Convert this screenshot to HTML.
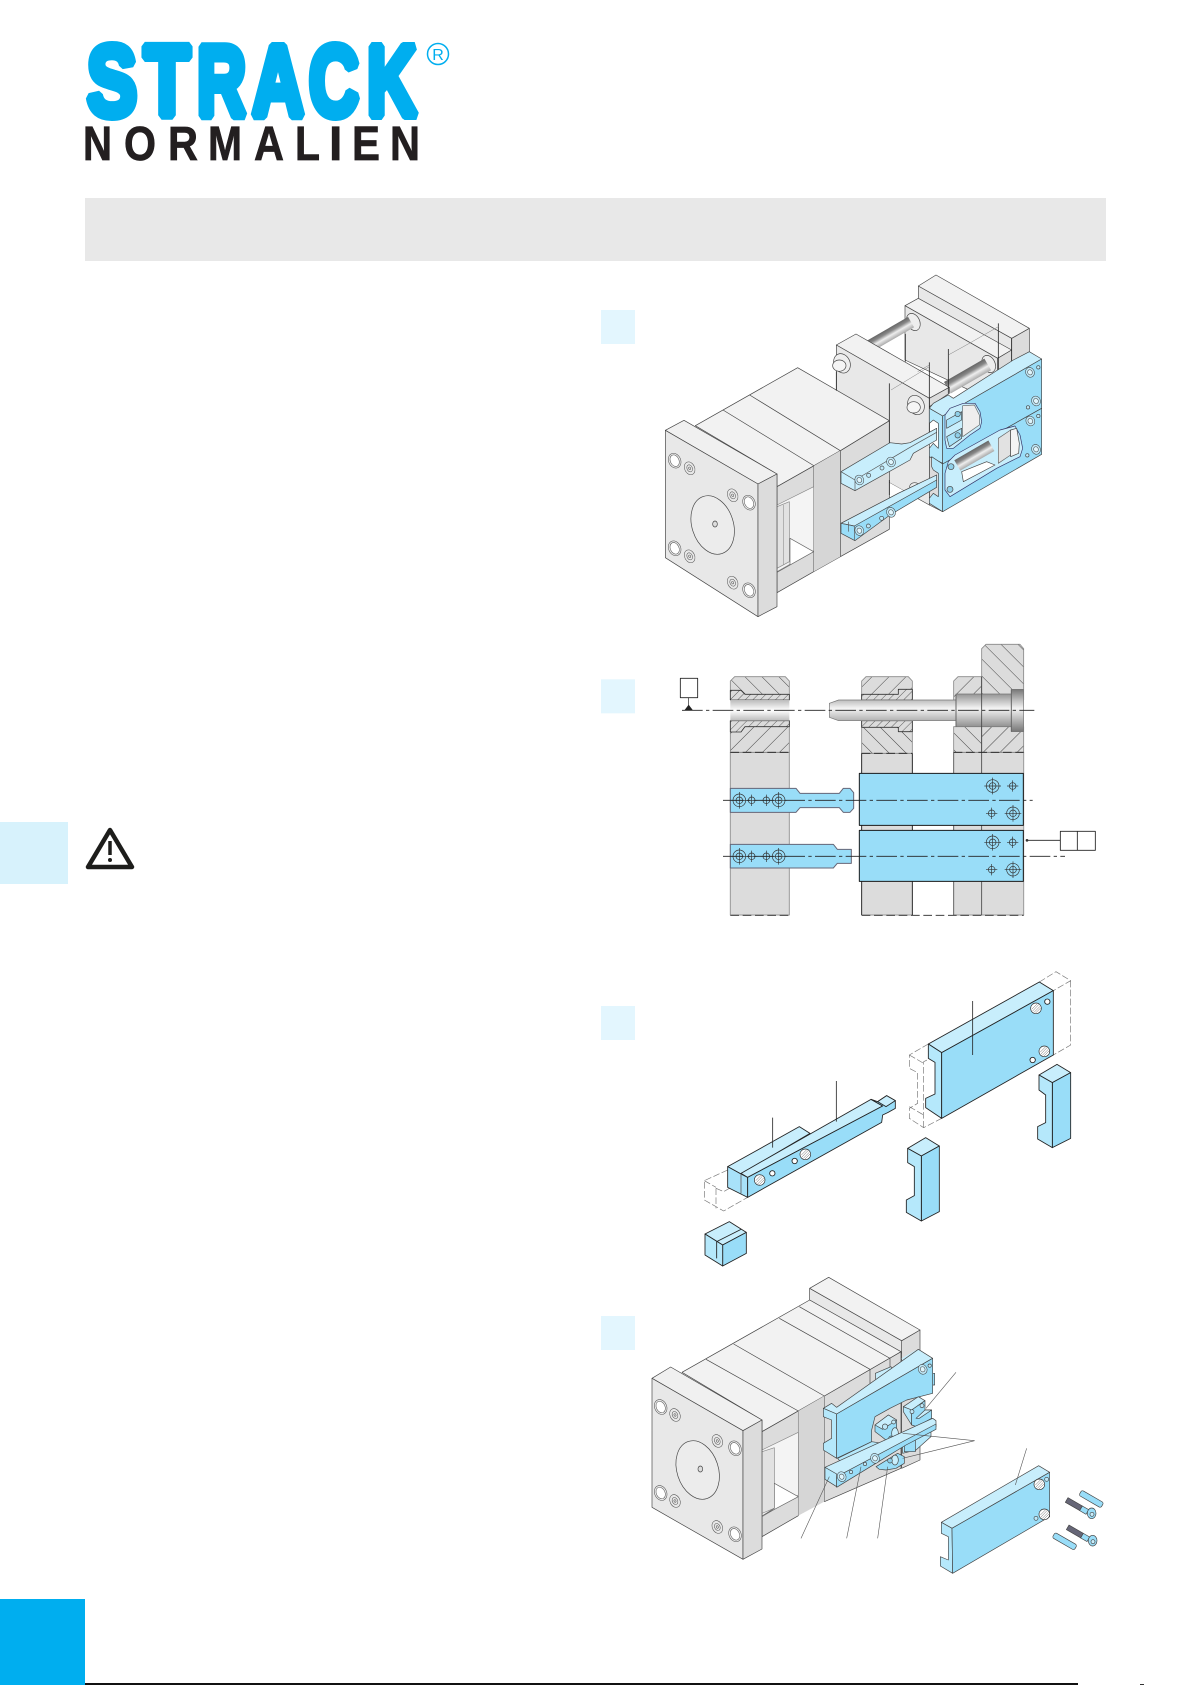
<!DOCTYPE html>
<html><head><meta charset="utf-8"><title>Strack Normalien</title>
<style>html,body{margin:0;padding:0;background:#fff}svg{display:block}</style></head>
<body>
<svg xmlns="http://www.w3.org/2000/svg" width="1192" height="1685" viewBox="0 0 1192 1685">
<defs>
<linearGradient id="cyl" x1="0" y1="0" x2="0" y2="1"><stop offset="0" stop-color="#666"/><stop offset=".3" stop-color="#888"/><stop offset=".6" stop-color="#eee"/><stop offset=".8" stop-color="#ccc"/><stop offset="1" stop-color="#aaa"/></linearGradient>
<linearGradient id="pin" x1="0" y1="0" x2="0" y2="1"><stop offset="0" stop-color="#777"/><stop offset=".45" stop-color="#f4f4f4"/><stop offset="1" stop-color="#777"/></linearGradient>
<linearGradient id="bore" x1="0" y1="0" x2="0" y2="1"><stop offset="0" stop-color="#bbb"/><stop offset=".5" stop-color="#fff"/><stop offset="1" stop-color="#bbb"/></linearGradient>
<pattern id="hR" width="36" height="36" patternUnits="userSpaceOnUse" patternTransform="rotate(45)"><rect width="36" height="36" fill="#dcdcdc"/><line x1="0" y1="0" x2="0" y2="36" stroke="#444" stroke-width="3"/></pattern>
<pattern id="hL" width="36" height="36" patternUnits="userSpaceOnUse" patternTransform="rotate(-45)"><rect width="36" height="36" fill="#dcdcdc"/><line x1="0" y1="0" x2="0" y2="36" stroke="#444" stroke-width="3"/></pattern>
<pattern id="hS" width="16" height="16" patternUnits="userSpaceOnUse" patternTransform="rotate(45)"><rect width="16" height="16" fill="#dcdcdc"/><line x1="0" y1="0" x2="0" y2="16" stroke="#444" stroke-width="2.5"/></pattern>
<g id="tB" fill="none" stroke="#333" stroke-width="2"><circle r="19"/><circle r="10"/><path d="M-25 0H25M0-25V25"/></g>
<g id="tS" fill="none" stroke="#333" stroke-width="2"><circle r="10"/><path d="M-17 0H17M0-17V17"/></g>
<g id="hole" stroke="#444" stroke-width="1.6" fill="#bfe8f8"><ellipse rx="13" ry="15" transform="rotate(-25)"/><ellipse rx="7" ry="8" transform="rotate(-25)" fill="#dff5fd"/></g>
<g id="ghole" stroke="#555" stroke-width="1.6" fill="#e8e8e8"><ellipse rx="18" ry="23" transform="rotate(-25)"/><ellipse rx="13" ry="18" transform="rotate(-25)" fill="#fff"/></g>
<g id="gsm" stroke="#555" stroke-width="1.6" fill="#e8e8e8"><ellipse rx="15" ry="20" transform="rotate(-25)"/><ellipse rx="8" ry="11" transform="rotate(-25)"/><ellipse rx="3" ry="4" transform="rotate(-25)"/></g>
<g id="thr" stroke="#333" stroke-width="2" fill="#fff"><circle r="16"/><path d="M-10 8L8-11M-12 2L3-13M-6 12L12-6M-1 14L14-1" fill="none" stroke-width="1.1"/></g>
</defs>
<rect width="1192" height="1685" fill="#fff"/>

<!-- logo -->
<g font-family="'Liberation Sans',sans-serif" font-weight="700" fill="#00aeef" stroke="#00aeef" stroke-width="9" stroke-linejoin="bevel" font-size="100">
<text x="87" y="115.500" textLength="50" lengthAdjust="spacingAndGlyphs">S</text>
<text x="144" y="115.500" textLength="46" lengthAdjust="spacingAndGlyphs">T</text>
<text x="197" y="115.500" textLength="49" lengthAdjust="spacingAndGlyphs">R</text>
<text x="252" y="115.500" textLength="52" lengthAdjust="spacingAndGlyphs">A</text>
<text x="309" y="115.500" textLength="50" lengthAdjust="spacingAndGlyphs">C</text>
<text x="367" y="115.500" textLength="50" lengthAdjust="spacingAndGlyphs">K</text>
</g>
<g font-family="'Liberation Sans',sans-serif" font-weight="700" fill="#231f20" stroke="#231f20" stroke-width=".7" font-size="48">
<text x="83" y="160" textLength="29" lengthAdjust="spacingAndGlyphs">N</text>
<text x="124" y="160" textLength="32" lengthAdjust="spacingAndGlyphs">O</text>
<text x="168" y="160" textLength="30" lengthAdjust="spacingAndGlyphs">R</text>
<text x="208" y="160" textLength="34" lengthAdjust="spacingAndGlyphs">M</text>
<text x="254" y="160" textLength="30" lengthAdjust="spacingAndGlyphs">A</text>
<text x="295" y="160" textLength="25" lengthAdjust="spacingAndGlyphs">L</text>
<text x="329" y="160">I</text>
<text x="352" y="160" textLength="28" lengthAdjust="spacingAndGlyphs">E</text>
<text x="390" y="160" textLength="30" lengthAdjust="spacingAndGlyphs">N</text>
</g>
<circle cx="438" cy="54" r="10.5" fill="none" stroke="#00aeef" stroke-width="1.5"/>
<text x="438" y="60" text-anchor="middle" font-family="'Liberation Sans',sans-serif" font-size="16" fill="#00aeef">R</text>

<!-- band & tabs -->
<rect x="85" y="198" width="1021" height="63" fill="#e8e8e8"/>
<rect x="0" y="822" width="68" height="62" fill="#d7f2fc"/>
<path d="M110 830L132 867H88Z" fill="#fff" stroke="#1d1d1b" stroke-width="4.500" stroke-linejoin="round"/>
<path d="M110 841V855" stroke="#1d1d1b" stroke-width="3.500"/><circle cx="110" cy="860" r="2" fill="#1d1d1b"/>
<rect x="0" y="1599" width="85" height="86" fill="#00aeef"/>
<rect x="85" y="1683" width="993" height="2" fill="#111"/>
<rect x="1140" y="1684" width="4" height="1" fill="#333"/>

<!-- DIAGRAM 1 -->
<g transform="translate(596,260) scale(.33333)" stroke="#444" stroke-width="2" stroke-linejoin="round">
<rect x="15" y="150" width="102" height="102" fill="#e3f6fe" stroke="none"/>
<polygon points="1247,235 1300,205 1300,300 1247,330" fill="#dcdcdc"/>
<polygon points="967,78 1247,235 1247,330 967,170" fill="#e8e8e8"/>
<polygon points="967,78 1020,45 1300,205 1247,235" fill="#f2f2f2"/>
<polygon points="927,137 967,115 1247,270 1205,295" fill="#f2f2f2"/>
<polygon points="927,137 1205,295 1205,430 927,300" fill="#e8e8e8"/>
<polygon points="1205,295 1247,270 1247,340 1205,360" fill="#dcdcdc"/>
<ellipse cx="952" cy="186" rx="19" ry="27" transform="rotate(-25 952 186)" fill="#eee"/>
<rect transform="translate(825,258) rotate(-30)" x="0" y="-20" width="140" height="36" fill="url(#cyl)" stroke="none"/>
<ellipse cx="1178" cy="312" rx="19" ry="27" transform="rotate(-25 1178 312)" fill="#eee"/>
<rect transform="translate(1055,385) rotate(-30)" x="0" y="-22" width="140" height="40" fill="url(#cyl)" stroke="none"/>
<!-- moving plate -->
<polygon points="1000,590 1040,600 1040,755 1000,735" fill="#dcdcdc"/>
<polygon points="721,255 780,222 1060,382 1000,415" fill="#f2f2f2"/>
<polygon points="721,255 1000,415 1000,735 880,668 721,580" fill="#e8e8e8"/>
<polygon points="1000,415 1060,382 1060,400 1000,440" fill="#dcdcdc"/>
<ellipse cx="738" cy="310" rx="24" ry="30" transform="rotate(-25 738 310)" fill="#eee"/>
<ellipse cx="730" cy="317" rx="20" ry="17" fill="#f5f5f5"/>
<ellipse cx="960" cy="435" rx="24" ry="30" transform="rotate(-25 960 435)" fill="#eee"/>
<ellipse cx="953" cy="442" rx="20" ry="17" fill="#f5f5f5"/>
<ellipse cx="956" cy="680" rx="15" ry="12" fill="#eee"/>
<polygon points="880,668 925,693 905,705 880,705" fill="#fff" stroke="none"/>
<!-- block -->
<polygon points="733,572 880,482 880,808 733,890" fill="#dcdcdc"/>
<polygon points="298,497 605,323 880,482 733,572 543,680 543,642" fill="#f2f2f2"/>
<path d="M381,450L655,618M461,405L733,572" fill="none"/>
<polygon points="543,680 653,618 733,572 733,890 653,935 543,998" fill="#dcdcdc"/>
<polygon points="653,618 733,572 733,890 653,935" fill="#d6d6d6" stroke="none"/>
<path d="M653,618V935M733,572V890" fill="none" stroke="#777"/>
<polygon points="543,735 653,680 653,872 543,935" fill="#f4f4f4" stroke="#888"/>
<polygon points="543,740 580,725 580,905 543,925" fill="#e2e2e2" stroke="#888"/>
<path d="M562,735V915" stroke="#999" fill="none"/>
<polygon points="582,835 653,875 543,937 582,915" fill="#fff" stroke="#666"/>
<!-- clamp plate -->
<polygon points="208,511 264,481 543,642 486,672" fill="#f0f0f0"/>
<polygon points="208,511 486,672 486,1070 208,893" fill="#e8e8e8"/>
<polygon points="486,672 543,642 543,1040 486,1070" fill="#dcdcdc"/>
<ellipse cx="350" cy="795" rx="62" ry="90" transform="rotate(-18 350 795)" fill="#ececec"/>
<ellipse cx="357" cy="792" rx="7" ry="9" fill="#ddd"/>
<use href="#ghole" x="236" y="602"/><use href="#ghole" x="459" y="728"/><use href="#ghole" x="236" y="865"/><use href="#ghole" x="459" y="991"/>
<use href="#gsm" x="281" y="625"/><use href="#gsm" x="410" y="706"/><use href="#gsm" x="281" y="889"/><use href="#gsm" x="410" y="968"/>
<!-- leader lines -->
<g stroke="#222" stroke-width="2.400" fill="none"><path d="M880,370V555M880,660V705M1000,307V520M1057,267V400M1207,190V335M928,222V305M721,335V392M1247,235V315"/></g>
<path d="M965,335L1000,315M885,390L1000,320M1057,285L1120,250M1207,200L1120,250" stroke="#777" stroke-width="1.400" fill="none"/>
<!-- upper arm -->
<polygon points="735,635 882,548 917,552 942,548 1022,505 1022,540 952,580 942,600 777,692 735,670" fill="#c8eefc"/>
<path d="M735,635L777,660V692M777,660L937,565L1022,517" fill="none" stroke="#555"/>
<use href="#hole" x="790" y="660"/><use href="#hole" x="885" y="606"/>
<circle cx="818" cy="646" r="6" fill="#bfe8f8"/><circle cx="858" cy="624" r="6" fill="#bfe8f8"/>
<!-- lower arm -->
<polygon points="735,790 907,700 1022,645 1022,682 882,765 777,842 735,820" fill="#99ddf8"/>
<polygon points="735,790 907,700 1022,645 1022,660 775,798" fill="#c8eefc"/>
<path d="M775,798V842M735,790L775,798M757,785V815" fill="none" stroke="#555"/>
<use href="#hole" x="790" y="812"/><use href="#hole" x="885" y="757"/>
<circle cx="817" cy="798" r="6" fill="#bfe8f8"/><circle cx="857" cy="775" r="6" fill="#bfe8f8"/>
<!-- right assembly -->
<polygon points="1000,445 1012,430 1057,405 1072,415 1252,300 1300,275 1337,297 1040,468" fill="#c8eefc"/>
<polygon points="1000,445 1040,468 1040,610 1000,590 1000,565 1012,550 1027,565 1027,490 1012,480 1000,490" fill="#b5e8fb"/>
<polygon points="1007,590 1040,612 1040,755 1000,730 1000,715 1012,700 1027,710 1027,640 1012,630 1007,620" fill="#b5e8fb"/>
<polygon points="1040,468 1337,297 1337,445 1040,612" fill="#99ddf8"/>
<polygon points="1040,612 1337,445 1337,583 1040,755" fill="#99ddf8"/>
<path d="M1047,465L1062,445L1102,430L1137,430L1152,455L1157,485L1152,505L1122,525L1072,565L1052,565L1047,540Z" fill="#c8eefc" stroke="#336"/>
<polygon points="1100,437 1135,435 1150,465 1150,495 1100,530" fill="#eee" stroke="#666"/>
<polygon points="1052,480 1097,455 1097,480 1052,505" fill="#a8e2f9"/>
<polygon points="1052,530 1097,505 1097,535 1060,560" fill="#a8e2f9"/>
<circle cx="1085" cy="462" r="8" fill="#8fcfe8"/><circle cx="1085" cy="526" r="8" fill="#8fcfe8"/>
<path d="M1047,640L1057,605L1077,585L1212,510L1257,498L1272,525L1280,565L1272,590L1202,625L1062,710L1047,690Z" fill="#c8eefc" stroke="#336"/>
<polygon points="1207,535 1244,510 1244,585 1207,610" fill="#e2e2e2" stroke="#666"/>
<polygon points="1244,510 1262,505 1270,550 1268,580 1244,590" fill="#f4f4f4"/>
<polygon points="1097,635 1172,605 1197,615 1102,665" fill="#fff"/>
<rect transform="translate(1085,618) rotate(-30)" x="0" y="-20" width="118" height="36" fill="url(#cyl)" stroke="none"/>
<circle cx="1065" cy="620" r="9" fill="#8fcfe8"/><circle cx="1062" cy="688" r="9" fill="#8fcfe8"/>
<use href="#hole" x="1302" y="337"/><use href="#hole" x="1320" y="423"/><use href="#hole" x="1303" y="483"/><use href="#hole" x="1320" y="568"/>
<circle cx="1327" cy="322" r="5" fill="#bfe8f8"/><circle cx="1296" cy="442" r="5" fill="#bfe8f8"/><circle cx="1327" cy="468" r="5" fill="#bfe8f8"/><circle cx="1294" cy="586" r="5" fill="#bfe8f8"/>
</g>

<!-- DIAGRAM 2 -->
<g transform="translate(596,630) scale(.33333)" stroke-linejoin="round">
<rect x="15" y="148" width="102" height="102" fill="#e3f6fe"/>
<g stroke="#999" stroke-width="3" fill="#dcdcdc">
<path d="M403,367V855H580V367Z"/>
<path d="M797,370V855H949V370Z"/>
<path d="M1073,367V855H1283V367Z"/>
</g>
<g stroke="#888" stroke-width="2.500">
<path d="M403,210V153L416,140H568L580,153V210Z" fill="url(#hL)"/>
<path d="M403,272H580V367H403Z" fill="url(#hR)"/>
<path d="M797,210V153L810,140H937L949,153V210Z" fill="url(#hR)"/>
<path d="M797,272H949V370H797Z" fill="url(#hL)"/>
<path d="M1073,210V153L1086,140H1157V210Z" fill="url(#hR)"/>
<path d="M1157,210V56L1170,43H1272L1283,56V210Z" fill="url(#hL)"/>
<path d="M1073,290H1157V367H1073Z" fill="url(#hL)"/>
<path d="M1157,290H1283V367H1157Z" fill="url(#hR)"/>
</g>
<path d="M403,181H435L447,193H580V210H403Z" fill="url(#hS)" stroke="#333" stroke-width="2.500"/>
<path d="M403,272H580V290H447L435,306H403Z" fill="url(#hS)" stroke="#333" stroke-width="2.500"/>
<path d="M797,193H907V178H949V210H797Z" fill="url(#hS)" stroke="#333" stroke-width="2.500"/>
<path d="M797,272H949V305H907V292H797Z" fill="url(#hS)" stroke="#333" stroke-width="2.500"/>
<rect x="403" y="210" width="177" height="62" fill="url(#bore)"/>
<path d="M700,220L728,210H1080V192H1246V178H1283V305H1246V290H1080V272H728L700,262Z" fill="url(#pin)" stroke="#777" stroke-width="2"/>
<path d="M1080,192V290M1246,178V305" stroke="#666" stroke-width="3"/>
<path d="M1157,140V855" stroke="#444" stroke-width="2.500"/><path d="M1073,367V855" stroke="#666" stroke-width="2.500"/>
<path d="M797,370V855M949,370V855" stroke="#222" stroke-width="2.500"/>
<g stroke="#222" stroke-width="2.500" stroke-dasharray="26 11" fill="none">
<path d="M403,367H580M797,370H949M1073,367H1283M403,856H580M797,856H1283"/>
</g>
<path d="M403,475H600L612,490H730L742,475H762L773,488V535L762,547H742L730,533H612L600,547H403Z" fill="#99ddf8" stroke="#667" stroke-width="3"/>
<path d="M403,643H712L724,658H766V700H724L712,714H403Z" fill="#99ddf8" stroke="#667" stroke-width="3"/>
<rect x="790" y="430" width="492" height="156" fill="#99ddf8" stroke="#1a1a1a" stroke-width="3"/>
<rect x="790" y="601" width="492" height="153" fill="#99ddf8" stroke="#1a1a1a" stroke-width="3"/>
<use href="#tB" x="430" y="511"/><use href="#tS" x="467" y="511"/><use href="#tS" x="511" y="511"/><use href="#tB" x="548" y="511"/>
<use href="#tB" x="430" y="679"/><use href="#tS" x="467" y="679"/><use href="#tS" x="511" y="679"/><use href="#tB" x="548" y="679"/>
<use href="#tB" x="1190" y="468"/><use href="#tS" x="1250" y="468"/><use href="#tS" x="1187" y="550"/><use href="#tB" x="1251" y="550"/>
<use href="#tB" x="1190" y="637"/><use href="#tS" x="1250" y="637"/><use href="#tS" x="1187" y="719"/><use href="#tB" x="1251" y="719"/>
<g stroke="#222" stroke-width="2.600" fill="none" stroke-dasharray="62 10 10 10">
<path d="M258,241H1315M381,511H1310M381,679H1407"/>
</g>
<rect x="253" y="145" width="52" height="58" fill="#fff" stroke="#222" stroke-width="2.600"/>
<path d="M278,203V228" stroke="#222" stroke-width="2"/><path d="M265,241H291L278,224Z" fill="#222"/>
<rect x="1393" y="604" width="105" height="57" fill="#fff" stroke="#222" stroke-width="2.600"/>
<path d="M1444,604V661M1393,631H1290" stroke="#222" stroke-width="2.600"/><circle cx="1293" cy="631" r="4" fill="#333"/>
</g>

<!-- DIAGRAM 3 -->
<g transform="translate(596,950) scale(.33333)" stroke="#222" stroke-width="2.600" stroke-linejoin="round">
<rect x="15" y="168" width="102" height="102" fill="#e3f6fe" stroke="none"/>
<g fill="none" stroke="#777" stroke-width="2" stroke-dasharray="20 7">
<path d="M997,282L940,315V355L965,368V460L940,475V505L983,533L1037,505M983,533V335L1037,308M940,315L983,340M940,470L983,495M1330,96L1380,65L1424,92L1372,122M1424,92V285L1372,315"/>
<path d="M395,660L325,692V750L383,783L455,742M360,715L383,725L435,695M360,715V775M325,692L360,712"/>
</g>
<polygon points="997,282 1330,96 1372,122 1037,308" fill="#c8eefc"/>
<polygon points="997,282 1037,308 1037,505 989,473 989,445 1017,432 1017,337 997,325" fill="#b5e8fb"/>
<polygon points="1037,308 1372,122 1372,315 1037,505" fill="#99ddf8"/>
<use href="#thr" x="1320" y="175"/><circle cx="1354" cy="155" r="8" fill="#fff"/><use href="#thr" x="1345" y="304"/><circle cx="1310" cy="330" r="8" fill="#fff"/>
<polygon points="1329,375 1383,343 1424,368 1369,398" fill="#c8eefc"/>
<polygon points="1369,398 1424,368 1424,565 1369,593" fill="#99ddf8"/>
<polygon points="1329,375 1369,398 1369,593 1325,567 1325,530 1349,518 1349,435 1329,420" fill="#b5e8fb"/>
<polygon points="935,595 989,563 1030,588 976,618" fill="#c8eefc"/>
<polygon points="976,618 1030,588 1030,785 976,813" fill="#99ddf8"/>
<polygon points="935,595 976,618 976,813 931,787 931,750 955,737 955,650 935,638" fill="#b5e8fb"/>
<polygon points="327,852 400,815 451,847 380,885" fill="#c8eefc"/>
<polygon points="380,885 451,847 451,910 380,948" fill="#99ddf8"/>
<polygon points="327,852 380,885 380,948 327,915" fill="#b5e8fb"/>
<path d="M362,875V925M362,875L435,838" fill="none"/>
<polygon points="395,650 610,530 642,550 435,672" fill="#c8eefc"/>
<polygon points="395,650 435,672 455,682 455,742 395,712" fill="#a8e2f9"/>
<path d="M435,672V730" fill="none" stroke="#666"/>
<polygon points="435,670 825,448 860,468 455,682" fill="#c8eefc"/>
<polygon points="825,448 845,455 872,437 898,452 898,475 875,488 860,495 857,517 455,742 455,682 860,468" fill="#99ddf8"/>
<polygon points="845,455 872,437 898,452 870,470" fill="#c8eefc"/>
<use href="#thr" x="491" y="690"/><circle cx="529" cy="670" r="8" fill="#fff"/><circle cx="596" cy="633" r="8" fill="#fff"/><use href="#thr" x="628" y="613"/>
<path d="M1130,153V315M530,503V593M721,393V515" fill="none" stroke-width="2.400"/>
</g>

<!-- DIAGRAM 4 -->
<g transform="translate(596,1270) scale(.33333)" stroke="#444" stroke-width="2" stroke-linejoin="round">
<rect x="15" y="138" width="102" height="102" fill="#e3f6fe" stroke="none"/>
<polygon points="917,212 972,180 972,570 917,595" fill="#dcdcdc"/>
<polygon points="641,55 917,212 917,250 641,90" fill="#e8e8e8"/>
<polygon points="641,55 698,22 972,180 917,212" fill="#f2f2f2"/>
<polygon points="685,378 915,245 915,595 685,695" fill="#dcdcdc"/>
<polygon points="258,307 641,90 915,245 685,378 498,485 498,450" fill="#f2f2f2"/>
<path d="M330,268L607,423M413,222L685,378M550,145L822,298M610,110L882,265M822,298V340M882,265V300" fill="none"/>
<polygon points="498,485 607,423 607,737 498,800" fill="#dcdcdc"/>
<polygon points="607,423 685,378 685,695 607,737" fill="#d6d6d6" stroke="none"/>
<path d="M607,423V737M685,378V695" stroke="#888" fill="none"/>
<polygon points="498,540 607,487 607,675 498,740" fill="#f4f4f4" stroke="#888"/>
<polygon points="498,545 535,533 535,715 498,730" fill="#e2e2e2" stroke="#888"/>
<polygon points="535,640 607,680 498,738 535,715" fill="#fff" stroke="#666"/>
<polygon points="168,325 224,291 498,450 441,482" fill="#f0f0f0"/>
<polygon points="168,325 441,482 441,868 168,712" fill="#e8e8e8"/>
<polygon points="441,482 498,450 498,837 441,868" fill="#dcdcdc"/>
<ellipse cx="305" cy="600" rx="62" ry="90" transform="rotate(-18 305 600)" fill="#ececec"/>
<ellipse cx="313" cy="597" rx="7" ry="9" fill="#ddd"/>
<use href="#ghole" x="194" y="411"/><use href="#ghole" x="417" y="535"/><use href="#ghole" x="194" y="669"/><use href="#ghole" x="417" y="793"/>
<use href="#gsm" x="237" y="435"/><use href="#gsm" x="364" y="513"/><use href="#gsm" x="237" y="693"/><use href="#gsm" x="364" y="771"/>
<!-- upper blue -->
<polygon points="838,310 885,290 895,310 840,340" fill="#c8eefc"/>
<polygon points="917,265 960,240 1000,260 935,300" fill="#c8eefc" stroke="none"/>
<polygon points="1010,310 1016,310 1016,345 1010,345" fill="#99ddf8"/>
<polygon points="682,415 707,400 722,412 967,238 1010,265 722,432" fill="#c8eefc"/>
<polygon points="682,415 722,432 722,565 682,540 682,520 707,505 707,450 682,440" fill="#b5e8fb"/>
<polygon points="722,432 1010,265 1010,370 932,390 882,415 837,440 827,480 827,515 722,565" fill="#99ddf8"/>
<use href="#hole" x="980" y="298"/><circle cx="1001" cy="287" r="5" fill="#bfe8f8"/>
<!-- cam blocks -->
<polygon points="922,410 967,380 987,392 947,420" fill="#c8eefc"/>
<polygon points="922,410 947,420 947,465 922,425" fill="#b5e8fb"/>
<polygon points="947,420 987,392 987,420 1007,420 1007,445 962,470 947,465" fill="#99ddf8"/>
<polygon points="960,445 987,420 1007,420 970,445" fill="#c8eefc"/>
<circle cx="948" cy="425" r="6" fill="#bfe8f8"/><circle cx="978" cy="407" r="6" fill="#bfe8f8"/>
<polygon points="837,465 877,435 902,450 902,480 882,520 857,500 837,485" fill="#99ddf8"/>
<polygon points="837,465 877,435 902,450 860,478" fill="#c8eefc"/>
<circle cx="867" cy="470" r="8" fill="#bfe8f8"/><circle cx="893" cy="456" r="6" fill="#bfe8f8"/><circle cx="885" cy="505" r="7" fill="#8fcfe8"/><ellipse cx="897" cy="490" rx="10" ry="17" fill="#c8eefc"/>
<polygon points="827,515 860,520 745,590 725,565" fill="#b5e8fb"/>
<polygon points="920,490 1005,455 1005,500 960,540 920,550" fill="#b5e8fb"/>
<polygon points="925,525 958,510 958,545 925,545" fill="#99ddf8"/>
<polygon points="840,590 905,550 925,560 925,580 900,595 870,600 850,598" fill="#99ddf8"/>
<ellipse cx="897" cy="570" rx="10" ry="15" fill="#c8eefc"/><circle cx="882" cy="572" r="7" fill="#8fcfe8"/>
<!-- lower bar -->
<polygon points="687,592 1010,445 1020,452 1020,470 722,620 705,610" fill="#c8eefc"/>
<polygon points="687,592 722,612 722,650 687,628" fill="#b5e8fb"/>
<polygon points="722,620 1020,462 1020,478 930,525 905,540 722,652" fill="#99ddf8"/>
<use href="#hole" x="737" y="620"/><use href="#hole" x="837" y="565"/><circle cx="765" cy="606" r="5" fill="#bfe8f8"/><circle cx="807" cy="582" r="5" fill="#bfe8f8"/>
<!-- right plate -->
<polygon points="1036,757 1328,587 1361,607 1068,775" fill="#c8eefc"/>
<polygon points="1036,757 1068,775 1070,910 1033,888 1033,860 1057,870 1057,800 1036,790" fill="#b5e8fb"/>
<polygon points="1068,775 1361,607 1361,740 1070,910" fill="#99ddf8"/>
<use href="#thr" x="1330" y="643"/><circle cx="1352" cy="628" r="6" fill="#bfe8f8"/><use href="#thr" x="1345" y="733"/><circle cx="1320" cy="745" r="6" fill="#bfe8f8"/>
<!-- pins & screws -->
<rect transform="translate(1453,668) rotate(30)" x="0" y="-9" width="76" height="18" rx="6" fill="#99ddf8"/>
<rect transform="translate(1373,795) rotate(30)" x="0" y="-9" width="76" height="18" rx="6" fill="#99ddf8"/>
<rect transform="translate(1412,690) rotate(30)" x="0" y="-8" width="50" height="16" fill="#667"/>
<rect transform="translate(1455,715) rotate(30)" x="0" y="-8" width="22" height="16" fill="#99ddf8"/>
<ellipse cx="1487" cy="730" rx="13" ry="16" fill="#99ddf8"/><circle cx="1488" cy="733" r="6" fill="#c8eefc"/>
<rect transform="translate(1415,772) rotate(30)" x="0" y="-8" width="50" height="16" fill="#667"/>
<rect transform="translate(1458,797) rotate(30)" x="0" y="-8" width="22" height="16" fill="#99ddf8"/>
<ellipse cx="1490" cy="812" rx="13" ry="16" fill="#99ddf8"/><circle cx="1491" cy="815" r="6" fill="#c8eefc"/>
<path d="M1080,307L990,415M1136,512L920,490M1136,512L920,565M1292,535L1258,645M615,805L700,620M752,805L795,590M845,805L875,590" fill="none" stroke="#555" stroke-width="1.800"/>
</g>
</svg>
</body></html>
